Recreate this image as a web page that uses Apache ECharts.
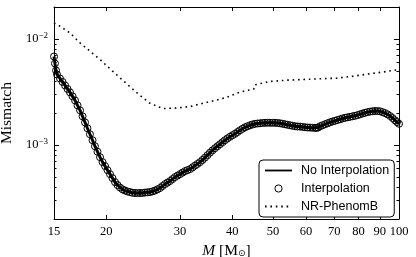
<!DOCTYPE html>
<html><head><meta charset="utf-8">
<script src="https://cdn.jsdelivr.net/npm/echarts@6/dist/echarts.min.js"></script>
<style>html,body{margin:0;padding:0;background:#fff}#c{width:416px;height:257px}</style>
</head><body><div id="c"></div>
<script>
const mass = [15.00,15.08,15.17,15.25,15.50,15.72,15.94,16.16,16.38,16.61,16.84,17.07,17.31,17.55,17.79,18.03,18.28,18.54,18.79,19.05,19.32,19.59,19.86,20.13,20.41,20.69,20.98,21.27,21.56,21.86,
  22.16,22.47,22.78,23.10,23.42,23.74,24.07,24.40,24.74,25.08,25.43,25.78,26.14,26.50,26.87,27.24,27.62,28.00,28.39,28.78,29.18,29.58,29.99,30.41,30.83,31.26,31.69,32.13,32.57,33.02,33.48,33.94,34.41,34.89,35.37,35.86,36.36,36.86,37.37,37.89,38.41,38.94,39.48,40.03,40.59,41.15,41.72,42.30,42.88,43.47,44.07,44.68,45.30,45.93,46.57,47.21,47.86,48.52,49.20,49.88,50.57,51.27,51.98,52.70,53.43,54.17,54.92,55.68,56.45,57.23,58.02,58.82,59.64,60.47,61.30,62.15,63.01,63.53,64.06,64.77,65.67,66.57,67.49,68.43,69.38,70.34,71.31,72.30,73.30,74.31,75.34,76.39,77.45,78.52,79.61,80.70,81.82,82.95,84.10,85.27,86.45,87.64,88.85,90.09,91.34,92.60,93.88,95.18,96.50,97.83,98.91,100.0];
const mismatch = [0.00682,0.00586,0.00504,0.00462,0.00424,0.00393,0.00364,0.00337,0.00313,0.00287,0.00263,0.00236,0.00212,0.00186,0.00163,0.001435,0.00126,0.001107,0.000972,0.000863,0.000766,0.000688,0.000631,0.000578,0.000530,0.000486,0.000446,0.000418,0.000396,0.000381,
  0.000371,0.000363,0.000359,0.000353,0.000352,0.000351,0.000352,0.000352,0.000355,0.000357,0.000359,0.000364,0.000371,0.000381,0.000392,0.000409,0.000427,0.000441,0.000456,0.000476,0.000497,0.000513,0.000530,0.000548,0.000566,0.000578,0.000591,0.000613,0.000638,0.000661,0.000688,0.000721,0.000758,0.000800,0.000845,0.000888,0.000931,0.000972,0.001015,0.001060,0.001107,0.001151,0.001194,0.001234,0.001274,0.001322,0.001375,0.001420,0.001467,0.001499,0.001532,0.001558,0.001582,0.001592,0.001599,0.001610,0.001617,0.001617,0.001617,0.001617,0.001617,0.001610,0.001599,0.001582,0.001565,0.001548,0.001532,0.001515,0.001499,0.001492,0.001489,0.001479,0.001467,0.001460,0.001457,0.001451,0.001448,0.001448,0.001457,0.001499,0.001532,0.001565,0.001599,0.001634,0.001663,0.001688,0.001718,0.001744,0.001775,0.001802,0.001821,0.001841,0.001861,0.001881,0.001910,0.001943,0.001977,0.002008,0.002038,0.002060,0.002078,0.002087,0.002087,0.002074,0.002038,0.001995,0.001943,0.001873,0.001794,0.001707,0.001641,0.001582];
const phenomMass = [15.0,15.42,16.38,17.31,18.29,19.32,20.41,21.56,22.78,24.07,25.43,27.32,29.46,31.69,34.04,36.71,38.78,41.72,44.49,45.0,45.2,49.2,53.94,59.0,64.8,71.0,77.7,85.3,93.5,100];
const phenomMismatch = [0.0141,0.01334,0.01139,0.00917,0.00765,0.00639,0.00522,0.0043,0.00354,0.00293,0.00247,0.0022,0.00223,0.0023,0.00247,0.00265,0.00281,0.00315,0.00334,0.00337,0.00368,0.00397,0.00408,0.00414,0.00421,0.00426,0.00445,0.00469,0.00493,0.00515];
const xTicks = [15,20,30,40,50,60,70,80,90,100];
const yMajor = [0.001,0.01];
const yMinor = [0.0002,0.0003,0.0004,0.0005,0.0006,0.0007,0.0008,0.0009,0.002,0.003,0.004,0.005,0.006,0.007,0.008,0.009,0.02];
const seriesNames = ['No Interpolation','Interpolation','NR-PhenomB'];

const zip = (a,b) => a.map((v,i)=>[v,b[i]]);
const serif = 'Liberation Serif';
const black = '#000';
function yLabel(v){
  const e = Math.round(Math.log10(v));
  return '10{sup|' + String(e).replace('-','−') + '}';
}
function xAxisCfg(pos, labels){
  return {
    type:'log', logBase:10, min:15, max:100, position:pos, gridIndex:0,
    axisLine:{show:true,onZero:false,lineStyle:{color:black,width:1}},
    axisTick:{show:true,inside:true,length:4,customValues:xTicks,lineStyle:{color:black,width:1}},
    axisLabel:{show:labels,customValues:xTicks,formatter:v=>String(Math.round(v)),fontFamily:serif,fontSize:12.5,color:black,margin:6},
    splitLine:{show:false},minorTick:{show:false},
    name: labels ? '{it|M} [M{sub|⊙}]' : '',
    nameLocation:'middle', nameGap:15,
    nameTextStyle:{fontFamily:serif,fontSize:15.5,color:black,rich:{it:{fontFamily:serif,fontStyle:'italic',fontSize:15.5},sub:{fontFamily:'DejaVu Sans',fontSize:9,padding:[5,0,0,0]}}}
  };
}
function yAxisCfg(pos, ticks, len, labels, line){
  return {
    type:'log', logBase:10, min:0.0002, max:0.02, position:pos, gridIndex:0,
    axisLine:{show:line,onZero:false,lineStyle:{color:black,width:1}},
    axisTick:{show:true,inside:true,length:len,customValues:ticks,lineStyle:{color:black,width:1}},
    axisLabel:{show:labels,customValues:yMajor,formatter:yLabel,fontFamily:serif,fontSize:12.5,color:black,margin:6,
      rich:{sup:{fontFamily:serif,fontSize:9,padding:[0,0,7,0]}}},
    splitLine:{show:false},minorTick:{show:false},
    name: labels ? 'Mismatch' : '',
    nameLocation:'middle', nameGap:39,
    nameTextStyle:{fontFamily:serif,fontSize:15.5,color:black}
  };
}
const chart = echarts.init(document.getElementById('c'),null,{renderer:'canvas'});
chart.setOption({
  animation:false,
  backgroundColor:'#fff',
  grid:{left:54,right:17,top:7,bottom:38,containLabel:false,outerBoundsMode:'none'},
  xAxis:[xAxisCfg('bottom',true), xAxisCfg('top',false)],
  yAxis:[yAxisCfg('left',yMajor,5,true,true), yAxisCfg('left',yMinor,2.5,false,false), yAxisCfg('right',yMajor,5,false,true), yAxisCfg('right',yMinor,2.5,false,false)],
  legend:{
    orient:'vertical', left:259, top:160, padding:[4,5,4,5], itemWidth:27, itemHeight:9, itemGap:5,
    backgroundColor:'#fff', borderColor:black, borderWidth:1, borderRadius:4,
    textStyle:{fontFamily:'Liberation Sans',fontSize:12.5,color:black,padding:[0,0,0,4]},
    data:[
      {name:seriesNames[0],itemStyle:{opacity:0},lineStyle:{width:1.8}},
      {name:seriesNames[1],itemStyle:{borderWidth:1,borderColor:black,color:'rgba(0,0,0,0)'}},
      {name:seriesNames[2],itemStyle:{opacity:0}}
    ]
  },
  series:[
    {name:seriesNames[0],type:'line',xAxisIndex:0,yAxisIndex:0,data:zip(mass,mismatch),showSymbol:false,symbol:'none',
     lineStyle:{color:black,width:3},itemStyle:{color:black},z:2},
    {name:seriesNames[1],type:'line',xAxisIndex:0,yAxisIndex:0,data:zip(mass,mismatch),symbol:'circle',symbolSize:7,showAllSymbol:true,
     lineStyle:{width:0,opacity:0},itemStyle:{color:'rgba(0,0,0,0)',borderColor:black,borderWidth:1},z:3},
    {name:seriesNames[2],type:'line',xAxisIndex:0,yAxisIndex:0,data:zip(phenomMass,phenomMismatch),showSymbol:false,symbol:'none',
     lineStyle:{color:black,width:1.6,type:[1.6,3.8]},itemStyle:{color:black},z:2}
  ]
});
</script></body></html>
